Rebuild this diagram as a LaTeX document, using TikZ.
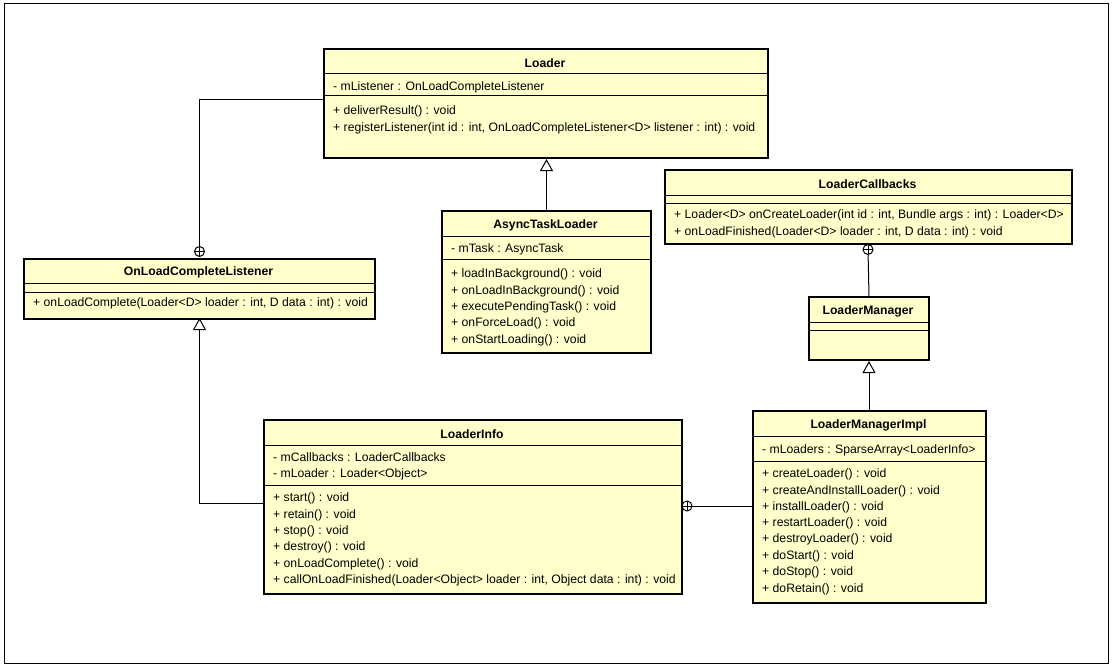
\documentclass[tikz,border=0pt]{standalone}
\usepackage{fontspec}
\setmainfont{Liberation Sans}
\usetikzlibrary{arrows.meta,calc}
\definecolor{umlfill}{RGB}{255,255,204}
\tikzset{
  umlbox/.style={draw=black,line width=2pt,fill=umlfill,inner sep=0pt,anchor=north west},
  sep/.style={line width=1pt},
  ttl/.style={inner sep=0pt,anchor=center,yshift=-1.2pt,font=\fontsize{12.2}{14}\selectfont\bfseries},
  mem/.style={inner sep=0pt,anchor=west,yshift=-1.5pt,font=\fontsize{12.2}{14}\selectfont},
  conn/.style={line width=1pt},
  inh/.style={line width=1pt,-{Triangle[open,length=12pt,width=13pt,fill=white]}},
  cplus/.pic={\draw[line width=1pt,fill=white] (0,0) circle (5); \draw[line width=1pt] (-5,0)--(5,0) (0,-5)--(0,5);}
}
\begin{document}
\begin{tikzpicture}[x=1pt,y=-1pt]
\useasboundingbox[fill=white] (0,0) rectangle (1112,669);
\node[draw=black,line width=1pt,minimum width=1104pt,minimum height=660pt,inner sep=0pt,anchor=north west] (frame) at (4,3) {};

% Loader
\node[umlbox,minimum width=444pt,minimum height=109pt] (loader) at (323,48) {};
\draw[sep] (loader.west |- 0,74) -- (loader.east |- 0,74);
\draw[sep] (loader.west |- 0,96) -- (loader.east |- 0,96);
\node[ttl] (loaderT) at (545,62) {Loader};
\node[mem] (loaderA1) at (333,86) {- mListener : OnLoadCompleteListener};
\node[mem] (loaderM1) at (333,110) {+ deliverResult() : void};
\node[mem] (loaderM2) at (333,127) {+ registerListener(int id : int, OnLoadCompleteListener<D> listener : int) : void};

% OnLoadCompleteListener
\node[umlbox,minimum width=351pt,minimum height=60pt] (listener) at (23,258) {};
\draw[sep] (listener.west |- 0,283) -- (listener.east |- 0,283);
\draw[sep] (listener.west |- 0,292) -- (listener.east |- 0,292);
\node[ttl] (listenerT) at (198.5,271) {OnLoadCompleteListener};
\node[mem] (listenerM1) at (33,302) {+ onLoadComplete(Loader<D> loader : int, D data : int) : void};

% AsyncTaskLoader
\node[umlbox,minimum width=209pt,minimum height=142pt] (async) at (441,210) {};
\draw[sep] (async.west |- 0,236) -- (async.east |- 0,236);
\draw[sep] (async.west |- 0,259) -- (async.east |- 0,259);
\node[ttl] (asyncT) at (545.5,224) {AsyncTaskLoader};
\node[mem] (asyncA1) at (451,248) {- mTask : AsyncTask};
\node[mem] (asyncM1) at (451,273) {+ loadInBackground() : void};
\node[mem] (asyncM2) at (451,290) {+ onLoadInBackground() : void};
\node[mem] (asyncM3) at (451,306) {+ executePendingTask() : void};
\node[mem] (asyncM4) at (451,322) {+ onForceLoad() : void};
\node[mem] (asyncM5) at (451,339) {+ onStartLoading() : void};

% LoaderCallbacks
\node[umlbox,minimum width=407pt,minimum height=74pt] (callbacks) at (664,169) {};
\draw[sep] (callbacks.west |- 0,195) -- (callbacks.east |- 0,195);
\draw[sep] (callbacks.west |- 0,203) -- (callbacks.east |- 0,203);
\node[ttl] (callbacksT) at (867.5,183) {LoaderCallbacks};
\node[mem] (callbacksM1) at (674,214) {+ Loader<D> onCreateLoader(int id : int, Bundle args : int) : Loader<D>};
\node[mem] (callbacksM2) at (674,231) {+ onLoadFinished(Loader<D> loader : int, D data : int) : void};

% LoaderManager
\node[umlbox,minimum width=120pt,minimum height=63pt] (manager) at (808,296) {};
\draw[sep] (manager.west |- 0,322) -- (manager.east |- 0,322);
\draw[sep] (manager.west |- 0,330) -- (manager.east |- 0,330);
\node[ttl] (managerT) at (868,310) {LoaderManager};

% LoaderManagerImpl
\node[umlbox,minimum width=233pt,minimum height=192pt] (impl) at (752,410) {};
\draw[sep] (impl.west |- 0,436) -- (impl.east |- 0,436);
\draw[sep] (impl.west |- 0,461) -- (impl.east |- 0,461);
\node[ttl] (implT) at (868.5,424) {LoaderManagerImpl};
\node[mem] (implA1) at (762,449) {- mLoaders : SparseArray<LoaderInfo>};
\node[mem] (implM1) at (762,473) {+ createLoader() : void};
\node[mem] (implM2) at (762,490) {+ createAndInstallLoader() : void};
\node[mem] (implM3) at (762,506) {+ installLoader() : void};
\node[mem] (implM4) at (762,522) {+ restartLoader() : void};
\node[mem] (implM5) at (762,538) {+ destroyLoader() : void};
\node[mem] (implM6) at (762,555) {+ doStart() : void};
\node[mem] (implM7) at (762,571) {+ doStop() : void};
\node[mem] (implM8) at (762,588) {+ doRetain() : void};

% LoaderInfo
\node[umlbox,minimum width=418pt,minimum height=174pt] (info) at (263,419) {};
\draw[sep] (info.west |- 0,445) -- (info.east |- 0,445);
\draw[sep] (info.west |- 0,485) -- (info.east |- 0,485);
\node[ttl] (infoT) at (472,433) {LoaderInfo};
\node[mem] (infoA1) at (273,456) {- mCallbacks : LoaderCallbacks};
\node[mem] (infoA2) at (273,473) {- mLoader : Loader<Object>};
\node[mem] (infoM1) at (273,497) {+ start() : void};
\node[mem] (infoM2) at (273,514) {+ retain() : void};
\node[mem] (infoM3) at (273,530) {+ stop() : void};
\node[mem] (infoM4) at (273,546) {+ destroy() : void};
\node[mem] (infoM5) at (273,563) {+ onLoadComplete() : void};
\node[mem] (infoM6) at (273,579) {+ callOnLoadFinished(Loader<Object> loader : int, Object data : int) : void};

% connectors
\coordinate (c1) at (199.5,251.5);
\draw[conn] (loader.west |- 0,100) -- (199.5,100) -- (c1.north);
\pic at (c1) {cplus};

\draw[inh] (async.north) -- (async.north |- loader.south);

\coordinate (c2) at (868,249.5);
\draw[conn] (manager.north) -- (c2);
\pic at (c2) {cplus};

\draw[inh] (impl.north -| manager.north) -- (manager.south);

\draw[inh] (info.west |- 0,503) -- (199.5,503) -- (199.5,318);

\coordinate (c3) at (687,506);
\draw[conn] (impl.west |- c3) -- (c3);
\pic at (c3) {cplus};
\end{tikzpicture}
\end{document}
